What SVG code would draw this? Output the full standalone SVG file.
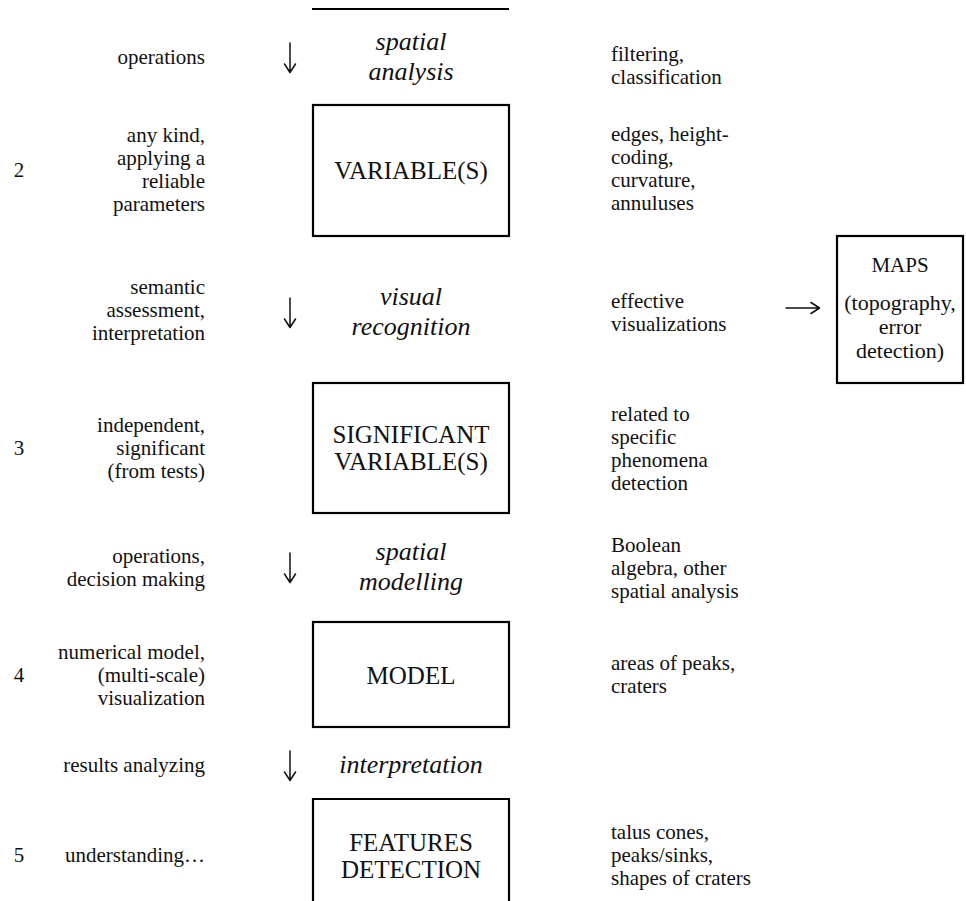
<svg xmlns="http://www.w3.org/2000/svg" width="966" height="901" viewBox="0 0 966 901">
<style>
  .bg { fill: #ffffff; }
  .box { fill: none; stroke: #000; stroke-width: 2.2; }
  text { font-family: 'Liberation Serif', 'DejaVu Serif', serif; fill: #111; }
  .t { font-size: 21px; }
  .l { text-anchor: end; }
  .n { text-anchor: middle; }
  .big { font-size: 25px; text-anchor: middle; }
  .it { font-size: 26px; font-style: italic; text-anchor: middle; }
  .m { font-size: 22px; text-anchor: middle; }
  .mh { font-size: 21px; text-anchor: middle; }
  .arr { fill: none; stroke: #111; stroke-width: 1.5; stroke-linecap: round; stroke-linejoin: round; }
</style>
<rect class="bg" x="0" y="0" width="966" height="901"/>

<g id="top-line">
  <line x1="312" y1="9" x2="509" y2="9" stroke="#000" stroke-width="2.2"/>
</g>

<g id="row1-labels">
  <text class="t l" x="205" y="64">operations</text>
  <text class="it" x="411" y="50">spatial</text>
  <text class="it" x="411" y="80">analysis</text>
  <text class="t" x="611" y="61">filtering,</text>
  <text class="t" x="611" y="84">classification</text>
</g>

<g id="node-variables">
  <rect class="box" x="313" y="105" width="196" height="131"/>
  <text class="big" x="411" y="179">VARIABLE(S)</text>
  <text class="t n" x="19" y="177">2</text>
  <text class="t l" x="205" y="142">any kind,</text>
  <text class="t l" x="205" y="165">applying a</text>
  <text class="t l" x="205" y="188">reliable</text>
  <text class="t l" x="205" y="211">parameters</text>
  <text class="t" x="611" y="141">edges, height-</text>
  <text class="t" x="611" y="164">coding,</text>
  <text class="t" x="611" y="187">curvature,</text>
  <text class="t" x="611" y="210">annuluses</text>
</g>

<g id="row2-labels">
  <text class="t l" x="205" y="294">semantic</text>
  <text class="t l" x="205" y="317">assessment,</text>
  <text class="t l" x="205" y="340">interpretation</text>
  <text class="it" x="411" y="305">visual</text>
  <text class="it" x="411" y="335">recognition</text>
  <text class="t" x="611" y="308">effective</text>
  <text class="t" x="611" y="331">visualizations</text>
</g>

<g id="node-maps">
  <rect class="box" x="837" y="236" width="126" height="147"/>
  <text class="mh" x="900" y="272">MAPS</text>
  <text class="m" x="900" y="310">(topography,</text>
  <text class="m" x="900" y="334">error</text>
  <text class="m" x="900" y="358">detection)</text>
</g>

<g id="node-significant">
  <rect class="box" x="313" y="383" width="196" height="130"/>
  <text class="big" x="411" y="443">SIGNIFICANT</text>
  <text class="big" x="411" y="470">VARIABLE(S)</text>
  <text class="t n" x="19" y="455">3</text>
  <text class="t l" x="205" y="432">independent,</text>
  <text class="t l" x="205" y="455">significant</text>
  <text class="t l" x="205" y="478">(from tests)</text>
  <text class="t" x="611" y="421">related to</text>
  <text class="t" x="611" y="444">specific</text>
  <text class="t" x="611" y="467">phenomena</text>
  <text class="t" x="611" y="490">detection</text>
</g>

<g id="row3-labels">
  <text class="t l" x="205" y="563">operations,</text>
  <text class="t l" x="205" y="586">decision making</text>
  <text class="it" x="411" y="560">spatial</text>
  <text class="it" x="411" y="590">modelling</text>
  <text class="t" x="611" y="552">Boolean</text>
  <text class="t" x="611" y="575">algebra, other</text>
  <text class="t" x="611" y="598">spatial analysis</text>
</g>

<g id="node-model">
  <rect class="box" x="313" y="622" width="196" height="105"/>
  <text class="big" x="411" y="684">MODEL</text>
  <text class="t n" x="19" y="682">4</text>
  <text class="t l" x="205" y="659">numerical model,</text>
  <text class="t l" x="205" y="682">(multi-scale)</text>
  <text class="t l" x="205" y="705">visualization</text>
  <text class="t" x="611" y="670">areas of peaks,</text>
  <text class="t" x="611" y="693">craters</text>
</g>

<g id="row4-labels">
  <text class="t l" x="205" y="772">results analyzing</text>
  <text class="it" x="411" y="773">interpretation</text>
</g>

<g id="node-features">
  <path class="box" d="M313,905 V799 H509 V905"/>
  <text class="big" x="411" y="851">FEATURES</text>
  <text class="big" x="411" y="878">DETECTION</text>
  <text class="t n" x="19" y="862">5</text>
  <text class="t l" x="205" y="862">understanding…</text>
  <text class="t" x="611" y="839">talus cones,</text>
  <text class="t" x="611" y="862">peaks/sinks,</text>
  <text class="t" x="611" y="885">shapes of craters</text>
</g>

<g id="connectors">
  <path class="arr" d="M290,43 V72 M284.5,64 L290,72.5 L295.5,64"/>
  <path class="arr" d="M290,298 V327 M284.5,319 L290,327.5 L295.5,319"/>
  <path class="arr" d="M290,553 V582 M284.5,574 L290,582.5 L295.5,574"/>
  <path class="arr" d="M290,751 V780 M284.5,772 L290,780.5 L295.5,772"/>
  <path class="arr" d="M786,308 H819 M811,302.5 L819.5,308 L811,313.5"/>
</g>
</svg>
